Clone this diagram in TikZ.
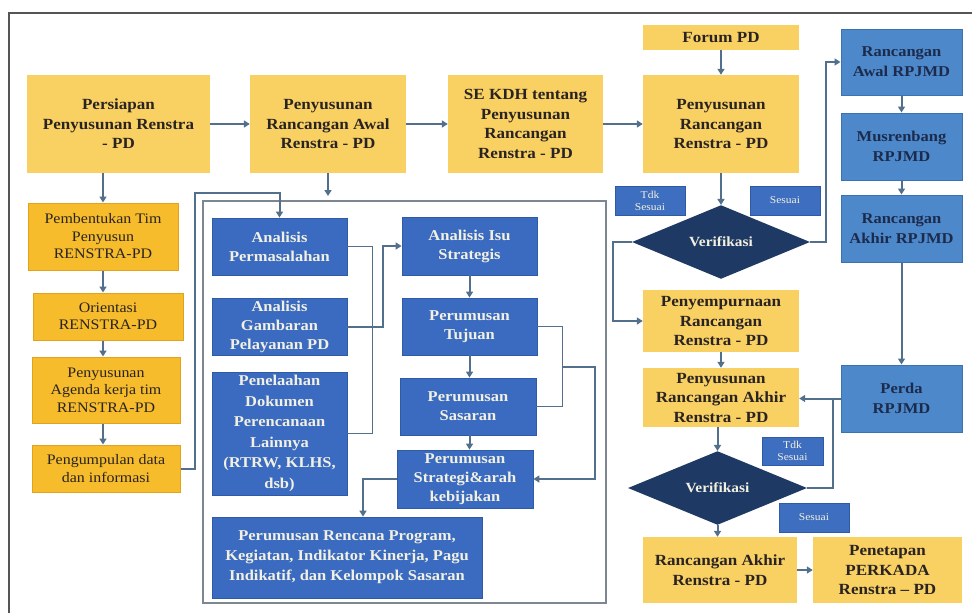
\documentclass[tikz,border=0pt]{standalone}
\usepackage{fontspec}
\setmainfont{Liberation Serif}[FakeStretch=1.1]
\usetikzlibrary{arrows.meta,shapes.geometric}

\definecolor{ylw}{HTML}{F9D163}
\definecolor{org}{HTML}{F6BC2C}
\definecolor{orgedge}{HTML}{E3A21E}
\definecolor{blu}{HTML}{3A6BC1}
\definecolor{bluedge}{HTML}{2F5BA6}
\definecolor{lblu}{HTML}{4D88CB}
\definecolor{lbluedge}{HTML}{3B72B5}
\definecolor{navy}{HTML}{1E3A64}
\definecolor{tagblu}{HTML}{3D6EBF}
\definecolor{ink}{HTML}{2A2323}
\definecolor{cream}{HTML}{F2F0E0}
\definecolor{navytxt}{HTML}{1C2B4C}
\definecolor{conn}{HTML}{52708C}
\definecolor{frm}{HTML}{7D8792}
\definecolor{edgegray}{HTML}{555555}

\tikzset{
  sz/.style 2 args={minimum width=#1pt, minimum height=#2pt},
  ybox/.style={rectangle, fill=ylw, text=ink, align=center, inner sep=0pt,
    font=\fontsize{15.5}{19.5}\selectfont\bfseries},
  obox/.style={rectangle, draw=orgedge, line width=1pt, fill=org, text=ink, align=center,
    inner sep=0pt, font=\fontsize{14.5}{17.5}\selectfont},
  bbox/.style={rectangle, draw=bluedge, line width=0.8pt, fill=blu, text=cream, align=center,
    inner sep=0pt, font=\fontsize{15}{19}\selectfont\bfseries},
  rbox/.style={rectangle, draw=lbluedge, line width=1pt, fill=lblu, text=navytxt, align=center,
    inner sep=0pt, font=\fontsize{15}{20}\selectfont\bfseries},
  tag/.style={rectangle, draw=bluedge, line width=0.6pt, fill=tagblu, text=cream, align=center,
    inner sep=0pt, font=\fontsize{10.5}{12}\selectfont},
  decide/.style={diamond, fill=navy, text=cream, inner sep=0pt,
    font=\fontsize{14}{16}\selectfont\bfseries},
  arr/.style={draw=conn, line width=2pt, -{Triangle[length=6pt,width=7pt]}},
  ln/.style={draw=conn, line width=1.6pt},
}

\begin{document}
\begin{tikzpicture}[x=1pt,y=-1pt]
\fill[white] (0,0) rectangle (972,613);
\useasboundingbox (0,0) rectangle (972,613);

% page frame
\draw[line width=1.5pt, draw=edgegray] (9,613) -- (9,13) -- (972,13);

% panel holding the analysis steps
\node[rectangle, draw=frm, line width=1.3pt, sz={403}{402}] (panel) at (404.5,402) {};

% main yellow flow
\node[ybox, sz={183}{98}] (persiapan) at (118.5,124) {Persiapan\\Penyusunan Renstra\\- PD};
\node[ybox, sz={156}{98}] (awal) at (328,124) {Penyusunan\\Rancangan Awal\\Renstra - PD};
\node[ybox, sz={155}{98}] (sekdh) at (525.5,124) {SE KDH tentang\\Penyusunan\\Rancangan\\Renstra - PD};
\node[ybox, sz={156}{25}] (forum) at (721,37.5) {Forum PD};
\node[ybox, sz={156}{98}] (rancangan) at (721,124) {Penyusunan\\Rancangan\\Renstra - PD};
\node[ybox, sz={156}{62}] (sempurna) at (721,321) {Penyempurnaan\\Rancangan\\Renstra - PD};
\node[ybox, sz={156}{59}] (akhir) at (721,397.5) {Penyusunan\\Rancangan Akhir\\Renstra - PD};
\node[ybox, sz={154}{66}] (final) at (720,570) {Rancangan Akhir\\Renstra - PD};
\node[ybox, sz={149}{66}] (penetapan) at (887.5,570) {Penetapan\\PERKADA\\Renstra -- PD};

% RPJMD column
\node[rbox, sz={121}{66}] (rawal) at (901.5,62) {Rancangan\\Awal RPJMD};
\node[rbox, sz={121}{67}] (musren) at (901.5,146.5) {Musrenbang\\RPJMD};
\node[rbox, sz={121}{67}] (rakhir) at (901.5,228.5) {Rancangan\\Akhir RPJMD};
\node[rbox, sz={121}{67}] (perda) at (901.5,398.5) {Perda\\RPJMD};

% preparation steps
\node[obox, sz={150}{67}] (bentuk) at (103,236.5) {Pembentukan Tim\\Penyusun\\RENSTRA-PD};
\node[obox, sz={150}{47}] (orient) at (108,316.5) {Orientasi\\RENSTRA-PD};
\node[obox, sz={148}{66}] (agenda) at (106,390) {Penyusunan\\Agenda kerja tim\\RENSTRA-PD};
\node[obox, sz={148}{47}] (kumpul) at (106,468.5) {Pengumpulan data\\dan informasi};

% analysis steps
\node[bbox, sz={135}{57}] (aperm) at (279.5,246.5) {Analisis\\Permasalahan};
\node[bbox, sz={135}{57}] (agamb) at (279.5,326.5) {Analisis\\Gambaran\\Pelayanan PD};
\node[bbox, sz={135}{123}, font=\fontsize{15}{20.5}\selectfont\bfseries] (penel) at (279.5,433.5)
  {Penelaahan\\Dokumen\\Perencanaan\\Lainnya\\(RTRW, KLHS,\\dsb)};
\node[bbox, sz={270}{81}, font=\fontsize{15}{20}\selectfont\bfseries] (prog) at (347,557.5)
  {Perumusan Rencana Program,\\Kegiatan, Indikator Kinerja, Pagu\\Indikatif, dan Kelompok Sasaran};
\node[bbox, sz={135}{58}] (isu) at (469.5,246) {Analisis Isu\\Strategis};
\node[bbox, sz={135}{57}] (tujuan) at (469.5,326.5) {Perumusan\\Tujuan};
\node[bbox, sz={136}{57}] (sasaran) at (468,406.5) {Perumusan\\Sasaran};
\node[bbox, sz={136}{58}] (strategi) at (465,479) {Perumusan\\Strategi\&arah\\kebijakan};

% decisions
\node[decide, sz={178}{73}] (ver1) at (721,242) {Verifikasi};
\node[decide, sz={179}{70}] (ver2) at (717.5,488) {Verifikasi};
\node[tag, sz={70}{29}] (tdk1) at (650,200.5) {Tdk\\Sesuai};
\node[tag, sz={70}{29}] (ses1) at (785,200.5) {Sesuai};
\node[tag, sz={61}{28}] (tdk2) at (792.5,451) {Tdk\\Sesuai};
\node[tag, sz={70}{29}] (ses2) at (814,517.5) {Sesuai};

% helper points
\coordinate (awaldrop) at (328,196);
\coordinate (fb) at (195,193);
\coordinate (tsj) at (562,367);
\coordinate (pin) at (363,0);
\coordinate (tdkjoin) at (833,398.5);

% top row
\draw[arr] (persiapan.east) -- (awal.west);
\draw[arr] (awal.east) -- (sekdh.west);
\draw[arr] (sekdh.east) -- (rancangan.west);
\draw[arr] (forum.south) -- (rancangan.north);
\draw[arr] (awal.south) -- (awaldrop);

% first verification
\draw[arr] (rancangan.south) -- (ver1.north);
\draw[arr] (ver1.east) -- ++(16,0) |- (rawal.west);
\draw[arr] (ver1.west) -- ++(-19,0) |- (sempurna.west);
\draw[arr] (sempurna.south) -- (akhir.north);

% RPJMD chain
\draw[arr] (rawal.south) -- (musren.north);
\draw[arr] (musren.south) -- (rakhir.north);
\draw[arr] (rakhir.south) -- (perda.north);
\draw[arr] (perda.west) -- (akhir.east |- perda.west);

% second verification
\draw[arr] (akhir.south -| ver2.north) -- (ver2.north);
\draw[ln] (ver2.east) -| (tdkjoin);
\draw[arr] (ver2.south) -- (ver2.south |- final.north);
\draw[arr] (final.east) -- (penetapan.west);

% preparation chain
\draw[arr] (bentuk.north |- persiapan.south) -- (bentuk.north);
\draw[arr] (bentuk.south) -- (bentuk.south |- orient.north);
\draw[arr] (bentuk.south |- orient.south) -- (bentuk.south |- agenda.north);
\draw[arr] (bentuk.south |- agenda.south) -- (bentuk.south |- kumpul.north);
\draw[arr] (kumpul.east) -| (fb) -| (aperm.north);

% analysis links
\draw[ln] (aperm.east) -- ++(25,0) |- (penel.east);
\draw[arr] (agamb.east) -- ++(36,0) |- (isu.west);
\draw[arr] (isu.south) -- (tujuan.north);
\draw[arr] (tujuan.south) -- (tujuan.south |- sasaran.north);
\draw[arr] (tujuan.south |- sasaran.south) -- (tujuan.south |- strategi.north);
\draw[ln] (tujuan.east) -- ++(25,0) |- (sasaran.east);
\draw[arr] (tsj) -- ++(33,0) |- (strategi.east);
\draw[arr] (strategi.west) -| (pin |- prog.north);
\end{tikzpicture}
\end{document}
